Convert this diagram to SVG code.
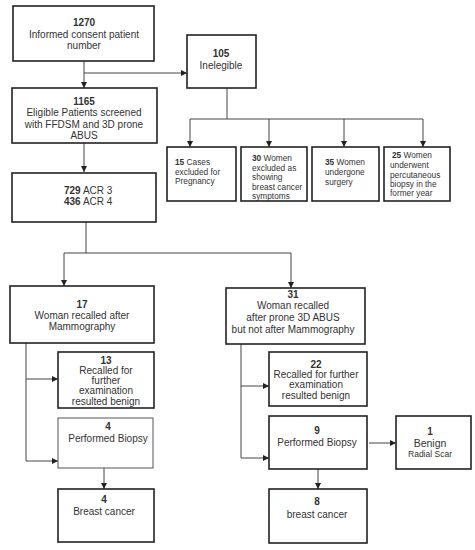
<svg xmlns="http://www.w3.org/2000/svg" width="475" height="550" viewBox="0 0 475 550">
<defs>
<marker id="ah" viewBox="0 0 6 6" refX="6" refY="3" markerWidth="6" markerHeight="6" markerUnits="userSpaceOnUse" orient="auto">
<path d="M0,0 L6,3 L0,6 z" fill="#222"/>
</marker>
<style>
.box{fill:#fff;stroke:#222;stroke-width:1.6}
.thin{fill:#fff;stroke:#555;stroke-width:1}
.c{fill:none;stroke:#444;stroke-width:1}
.a{fill:none;stroke:#444;stroke-width:1;marker-end:url(#ah)}
text{font-family:"Liberation Sans","Open Sans",Arial,sans-serif;font-size:10px;fill:#333}
.s{font-size:8.3px}
.m{text-anchor:middle}
.b{font-weight:bold}
</style>
</defs>
<g id="connectors">
<path class="a" d="M84,61 V88"/>
<path class="a" d="M84,73 H187"/>
<path class="c" d="M227,88 V119 M190,119 H423"/>
<path class="a" d="M190,119 V147"/>
<path class="a" d="M269,119 V147"/>
<path class="a" d="M344,119 V147"/>
<path class="a" d="M423,119 V147"/>
<path class="a" d="M84,143 V172"/>
<path class="c" d="M86,222 V253 M64,253 H291"/>
<path class="a" d="M64,253 V286"/>
<path class="a" d="M291,253 V288"/>
<path class="c" d="M26,343 V461"/>
<path class="a" d="M26,379 H58"/>
<path class="a" d="M26,461 H58"/>
<path class="a" d="M104,468 V489"/>
<path class="c" d="M241,344 V458"/>
<path class="a" d="M241,386 H269"/>
<path class="a" d="M241,458 H269"/>
<path class="a" d="M369,443 H396"/>
<path class="a" d="M318,469 V489"/>
</g>
<g id="n1270">
<rect class="box" x="13" y="6" width="141" height="55"/>
<text class="m b" x="84" y="26">1270</text>
<text class="m" x="84" y="38">Informed  consent patient</text>
<text class="m" x="84" y="49">number</text>
</g>
<g id="n105">
<rect class="box" x="187" y="35" width="69" height="53"/>
<text class="m b" x="221" y="57">105</text>
<text class="m" x="221" y="69">Inelegible</text>
</g>
<g id="n15">
<rect class="box" x="167" y="147" width="69" height="54"/>
<text class="s" x="175" y="165"><tspan class="b">15</tspan> Cases</text>
<text class="s" x="175" y="175">excluded for</text>
<text class="s" x="175" y="184">Pregnancy</text>
</g>
<g id="n30">
<rect class="box" x="241" y="147" width="66" height="54"/>
<text class="s" x="252" y="161"><tspan class="b">30</tspan> Women</text>
<text class="s" x="252" y="171">excluded as</text>
<text class="s" x="252" y="180">showing</text>
<text class="s" x="252" y="190">breast cancer</text>
<text class="s" x="252" y="199">symptoms</text>
</g>
<g id="n35">
<rect class="box" x="312" y="147" width="67" height="54"/>
<text class="s" x="325" y="165"><tspan class="b">35</tspan> Women</text>
<text class="s" x="325" y="175">undergone</text>
<text class="s" x="325" y="185">surgery</text>
</g>
<g id="n25">
<rect class="box" x="384" y="147" width="66" height="54"/>
<text class="s" x="392" y="158"><tspan class="b">25</tspan> Women</text>
<text class="s" x="390" y="168">underwent</text>
<text class="s" x="390" y="178">percutaneous</text>
<text class="s" x="390" y="187">biopsy in the</text>
<text class="s" x="390" y="196">former  year</text>
</g>
<g id="n1165">
<rect class="box" x="12" y="88" width="145" height="55"/>
<text class="m b" x="84" y="105">1165</text>
<text class="m" x="84" y="116">Eligible Patients screened</text>
<text class="m" x="84" y="128">with FFDSM  and 3D prone</text>
<text class="m" x="84" y="139">ABUS</text>
</g>
<g id="nACR">
<rect class="box" x="12" y="173" width="144" height="49"/>
<text x="64" y="194"><tspan class="b">729</tspan> ACR 3</text>
<text x="64" y="205"><tspan class="b">436</tspan> ACR 4</text>
</g>
<g id="n17">
<rect class="box" x="10" y="286" width="144" height="57"/>
<text class="m b" x="82" y="308">17</text>
<text class="m" x="82" y="319">Woman recalled after</text>
<text class="m" x="82" y="330">Mammography</text>
</g>
<g id="n13">
<rect class="box" x="58" y="352" width="96" height="56"/>
<text class="m b" x="106" y="364">13</text>
<text class="m" x="106" y="374">Recalled for</text>
<text class="m" x="106" y="384">further</text>
<text class="m" x="106" y="394">examination</text>
<text class="m" x="106" y="405">resulted benign</text>
</g>
<g id="n4b">
<rect class="thin" x="58" y="418" width="95" height="50"/>
<text class="m b" x="108" y="430">4</text>
<text class="m" x="108" y="442">Performed  Biopsy</text>
</g>
<g id="n4c">
<rect class="box" x="58" y="489" width="96" height="53"/>
<text class="m b" x="104" y="503">4</text>
<text class="m" x="104" y="515">Breast cancer</text>
</g>
<g id="n31">
<rect class="box" x="226" y="288" width="139" height="56"/>
<text class="m b" x="293" y="298">31</text>
<text class="m" x="293" y="309">Woman recalled</text>
<text class="m" x="293" y="321">after prone 3D ABUS</text>
<text class="m" x="293" y="333">but not after Mammography</text>
</g>
<g id="n22">
<rect class="box" x="269" y="352" width="98" height="54"/>
<text class="m b" x="316" y="368">22</text>
<text class="m" x="316" y="378">Recalled for further</text>
<text class="m" x="316" y="388">examination</text>
<text class="m" x="316" y="399">resulted benign</text>
</g>
<g id="n9">
<rect class="box" x="269" y="416" width="98" height="53"/>
<text class="m b" x="317" y="434">9</text>
<text class="m" x="317" y="446">Performed  Biopsy</text>
</g>
<g id="n1">
<rect class="box" x="396" y="416" width="75" height="53"/>
<text class="m b" x="430" y="435">1</text>
<text class="m" x="430" y="447" style="font-size:10.5px">Benign</text>
<text class="m" x="430" y="457" style="font-size:8.5px">Radial Scar</text>
</g>
<g id="n8">
<rect class="box" x="269" y="489" width="98" height="54"/>
<text class="m b" x="317" y="505">8</text>
<text class="m" x="317" y="518">breast cancer</text>
</g>
</svg>
